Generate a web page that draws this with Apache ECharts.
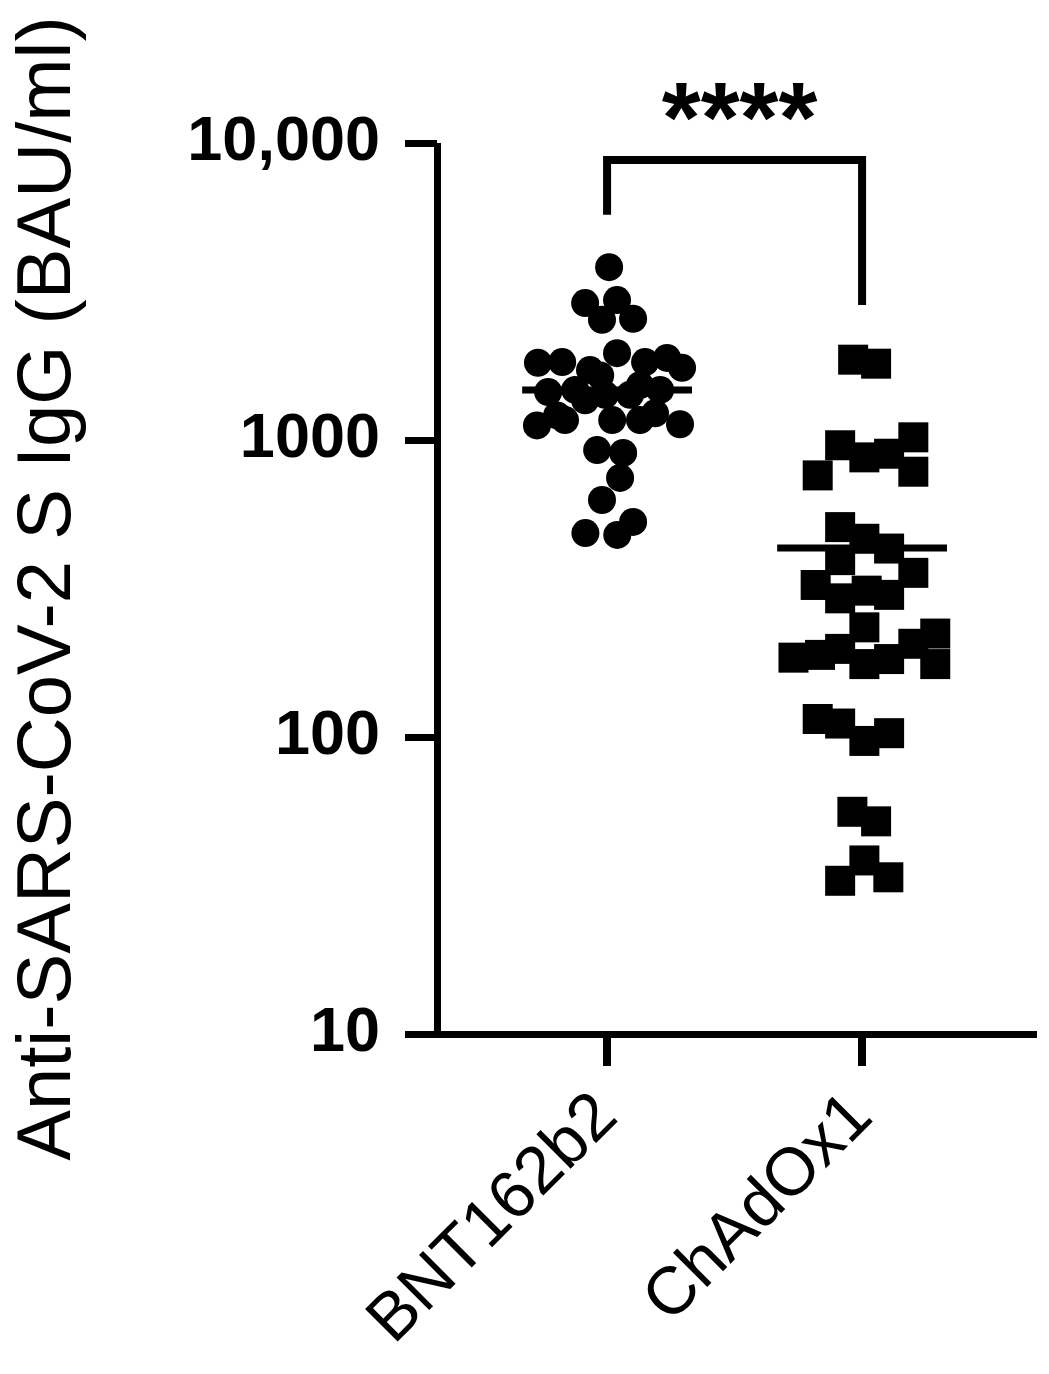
<!DOCTYPE html>
<html><head><meta charset="utf-8">
<script src="https://cdn.jsdelivr.net/npm/echarts@6/dist/echarts.min.js"></script>
<style>html,body{margin:0;padding:0;background:#fff}#c{width:1049px;height:1374px}</style>
</head><body><div id="c"></div>
<script>
// ---- data ----
const categories = ['BNT162b2', 'ChAdOx1'];
const yTickLabels = ['10', '100', '1000', '10,000'];
const yTitle = 'Anti-SARS-CoV-2 S IgG (BAU/ml)';

// horizontal jitter of each point (in category units) and its value (BAU/ml)
const bntOffsets = [0.008, -0.086, -0.02, 0.039, 0.102,
  -0.271, -0.176, -0.067, 0.039, 0.149, 0.235, 0.294,
  -0.275, -0.196, -0.086, -0.008, 0.09, 0.188, 0.286, -0.027, 0.129,
  -0.231, 0.208, -0.125, 0.02, 0.129, -0.165,
  -0.039, 0.063, 0.051, -0.02, -0.085, 0.04, 0.102];
const bntValues = [3820, 2890, 2540, 2960, 2560,
  1820, 1830, 1720, 1960, 1830, 1890, 1750,
  1120, 1210, 1360, 1420, 1420, 1230, 1130, 1650, 1530,
  1451, 1474, 1474, 1167, 1167, 1167,
  925, 905, 745, 628, 486, 479, 530];

const chadOffsets = [-0.035, 0.055,
  -0.086, -0.174, 0.009, 0.106, 0.201, 0.201,
  -0.086, 0.009, 0.106, 0.201, -0.182, -0.086, -0.086, 0.018, 0.106,
  0.009, -0.269, -0.165, -0.086, 0.009, 0.106, 0.201, 0.287, 0.287,
  -0.174, -0.086, 0.009, 0.106,
  -0.038, 0.055, 0.009, -0.086, 0.103];
const chadValues = [1864, 1807,
  960, 760, 874, 899, 1021, 782,
  509, 465, 431, 357, 325, 394, 293, 311, 301,
  234, 185, 189, 198, 176, 183, 206, 223, 176,
  115, 111, 97, 103,
  56, 52, 38.4, 32.8, 33.7];

const groupMeans = [1473, 433];
const bracketValues = [5730, 8770, 2850]; // left leg end, top, right leg end
const significance = '****';

// ---- chart ----
const font = "'Liberation Sans', Arial, sans-serif";
const chart = echarts.init(document.getElementById('c'), null, { renderer: 'canvas' });

const meanSeries = groupMeans.map((m, i) => ({
  type: 'line',
  data: [[i - 0.333, m], [i + 0.333, m]],
  symbol: 'none',
  lineStyle: { color: '#000', width: 7, cap: 'butt', opacity: 1 },
  z: 5,
  silent: true
}));

chart.setOption({
  animation: false,
  backgroundColor: '#fff',
  textStyle: { fontFamily: font },
  grid: { left: 437, right: 12, top: 143, bottom: 340, containLabel: false },
  xAxis: {
    type: 'value',
    min: -0.667,
    max: 1.686,
    splitLine: { show: false },
    axisLine: { show: true, onZero: false, lineStyle: { color: '#000', width: 7, cap: 'butt' } },
    axisTick: { show: true, customValues: [0, 1], length: 32, lineStyle: { color: '#000', width: 8 } },
    axisLabel: {
      customValues: [0, 1],
      formatter: v => categories[Math.round(v)],
      rotate: 45,
      margin: 72,
      fontSize: 67,
      color: '#000',
      fontFamily: font
    }
  },
  yAxis: {
    type: 'log',
    logBase: 10,
    min: 10,
    max: 10000,
    splitLine: { show: false },
    axisLine: { show: true, onZero: false, lineStyle: { color: '#000', width: 7, cap: 'butt' } },
    axisTick: { show: true, length: 32, lineStyle: { color: '#000', width: 7 } },
    axisLabel: {
      formatter: v => yTickLabels[Math.round(Math.log10(v)) - 1],
      margin: 57,
      fontSize: 63,
      fontWeight: 'bold',
      color: '#000',
      fontFamily: font
    },
    name: yTitle,
    nameLocation: 'middle',
    nameRotate: 90,
    nameGap: 350,
    nameTextStyle: { fontSize: 76, color: '#000', fontFamily: font }
  },
  series: [
    {
      type: 'scatter',
      data: bntOffsets.map((o, i) => [0 + o, bntValues[i]]),
      symbol: 'circle',
      symbolSize: 28,
      itemStyle: { color: '#000', opacity: 1 },
      z: 3
    },
    {
      type: 'scatter',
      data: chadOffsets.map((o, i) => [1 + o, chadValues[i]]),
      symbol: 'rect',
      symbolSize: 30,
      itemStyle: { color: '#000', opacity: 1 },
      z: 3
    },
    ...meanSeries,
    {
      type: 'line',
      data: [[0, bracketValues[0]], [0, bracketValues[1]], [1, bracketValues[1]], [1, bracketValues[2]]],
      symbol: 'none',
      lineStyle: { color: '#000', width: 8, cap: 'butt', join: 'miter', opacity: 1 },
      silent: true
    },
    {
      type: 'scatter',
      data: [[0.5, bracketValues[1]]],
      symbolSize: 0,
      silent: true,
      itemStyle: { color: '#000', opacity: 1 },
      label: {
        show: true,
        formatter: significance,
        position: 'inside',
        offset: [5, -36],
        fontSize: 100,
        fontWeight: 'bold',
        color: '#000',
        opacity: 1,
        fontFamily: font
      }
    }
  ]
});
</script>
</body></html>
